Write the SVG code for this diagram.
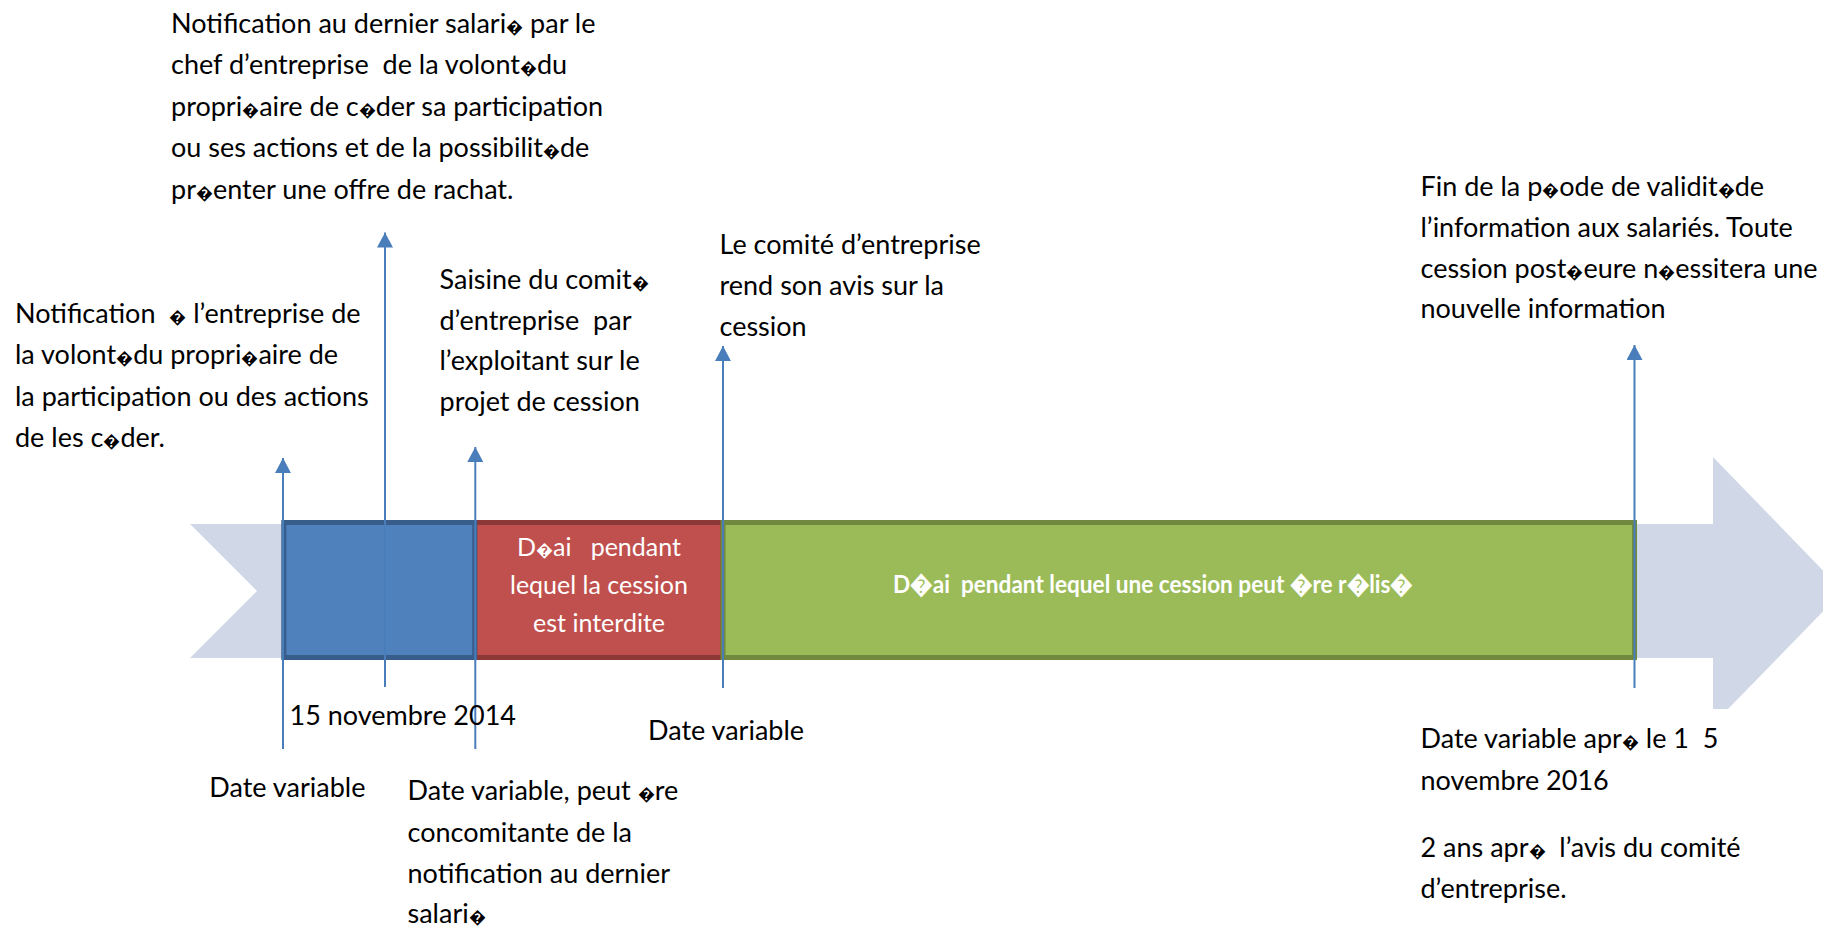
<svg xmlns="http://www.w3.org/2000/svg" width="1823" height="926" viewBox="0 0 1823 926">
<style>
.t{font-family:Lato,"Liberation Sans",sans-serif;font-size:27px;fill:#000;white-space:pre}
.w{font-family:Lato,"Liberation Sans",sans-serif;font-size:25px;fill:#fff;white-space:pre;text-anchor:middle}
.wb{font-family:Lato,"Liberation Sans",sans-serif;font-size:25px;font-weight:bold;fill:#fff;white-space:pre}
.x{font-size:17px}
.c{stroke:#4A7EBB;stroke-width:2;fill:none}
</style>
<defs>
<marker id="ah" viewBox="0 0 15 16" refX="15" refY="8" markerWidth="15" markerHeight="16" markerUnits="userSpaceOnUse" orient="auto"><path d="M0,0 L15,8 L0,16 z" fill="#4A7EBB"/></marker>
</defs>
<g id="band">
<polygon points="190,524 1713,524 1713,457 1843,591 1728,709 1713,709 1713,658 190,658 257,591" fill="#D0D8E8"/>
</g>
<g id="red">
<rect x="474.7" y="522.5" width="248.3" height="135" fill="#C0504D" stroke="#8C3836" stroke-width="5"/>
<text class="w"><tspan x="599" y="556">D<tspan class="x">�</tspan>ai   pendant</tspan><tspan x="599" y="594">lequel la cession</tspan><tspan x="599" y="632">est interdite</tspan></text>
</g>
<g id="blue">
<rect x="283.8" y="522.5" width="190.9" height="135" fill="#4F81BD" stroke="#385D8A" stroke-width="5"/>
</g>
<g id="green">
<rect x="723" y="522.5" width="911.5" height="135" fill="#9BBB59" stroke="#71893F" stroke-width="5"/>
<text class="wb" x="893" y="593" textLength="520" lengthAdjust="spacingAndGlyphs">D�ai  pendant lequel une cession peut �re r�lis�</text>
</g>
<g id="connectors">
<line class="c" x1="283" y1="749" x2="283" y2="458" marker-end="url(#ah)"/>
<line class="c" x1="385" y1="687" x2="385" y2="232.5" marker-end="url(#ah)"/>
<line class="c" x1="475.3" y1="749" x2="475.3" y2="447" marker-end="url(#ah)"/>
<line class="c" x1="723" y1="688" x2="723" y2="346" marker-end="url(#ah)"/>
<line class="c" x1="1634.5" y1="688" x2="1634.5" y2="345" marker-end="url(#ah)"/>
</g>
<g id="n-notif-salarie">
<text class="t"><tspan x="171" y="32.7">Notification au dernier salari<tspan class="x">�</tspan> par le</tspan><tspan x="171" y="74.2">chef d’entreprise  de la volont<tspan class="x">�</tspan>du</tspan><tspan x="171" y="115.7">propri<tspan class="x">�</tspan>aire de c<tspan class="x">�</tspan>der sa participation</tspan><tspan x="171" y="157.2">ou ses actions et de la possibilit<tspan class="x">�</tspan>de</tspan><tspan x="171" y="198.7">pr<tspan class="x">�</tspan>enter une offre de rachat.</tspan></text>
</g>
<g id="n-notif-entreprise">
<text class="t"><tspan x="15" y="323">Notification  <tspan class="x">�</tspan> l’entreprise de</tspan><tspan x="15" y="364">la volont<tspan class="x">�</tspan>du propri<tspan class="x">�</tspan>aire de</tspan><tspan x="15" y="405.5">la participation ou des actions</tspan><tspan x="15" y="446.5">de les c<tspan class="x">�</tspan>der.</tspan></text>
</g>
<g id="n-saisine">
<text class="t"><tspan x="439.5" y="288.5">Saisine du comit<tspan class="x">�</tspan></tspan><tspan x="439.5" y="329.5">d’entreprise  par</tspan><tspan x="439.5" y="370">l’exploitant sur le</tspan><tspan x="439.5" y="411">projet de cession</tspan></text>
</g>
<g id="n-avis">
<text class="t"><tspan x="719.5" y="254">Le comité d’entreprise</tspan><tspan x="719.5" y="295">rend son avis sur la</tspan><tspan x="719.5" y="336">cession</tspan></text>
</g>
<g id="n-fin">
<text class="t"><tspan x="1420.5" y="195.5">Fin de la p<tspan class="x">�</tspan>ode de validit<tspan class="x">�</tspan>de</tspan><tspan x="1420.5" y="236.5">l’information aux salariés. Toute</tspan><tspan x="1420.5" y="277.5">cession post<tspan class="x">�</tspan>eure n<tspan class="x">�</tspan>essitera une</tspan><tspan x="1420.5" y="318">nouvelle information</tspan></text>
</g>
<g id="d-2014">
<text class="t" x="289.5" y="725">15 novembre 2014</text>
</g>
<g id="d-var1">
<text class="t" x="209.3" y="797">Date variable</text>
</g>
<g id="d-var2">
<text class="t"><tspan x="407.5" y="800">Date variable, peut <tspan class="x">�</tspan>re</tspan><tspan x="407.5" y="841.5">concomitante de la</tspan><tspan x="407.5" y="882.5">notification au dernier</tspan><tspan x="407.5" y="923">salari<tspan class="x">�</tspan></tspan></text>
</g>
<g id="d-var3">
<text class="t" x="648" y="740">Date variable</text>
</g>
<g id="d-2016">
<text class="t"><tspan x="1420.5" y="748">Date variable apr<tspan class="x">�</tspan> le 1  5</tspan><tspan x="1420.5" y="789.5">novembre 2016</tspan></text>
<text class="t"><tspan x="1420.5" y="856.5">2 ans apr<tspan class="x">�</tspan>  l’avis du comité</tspan><tspan x="1420.5" y="898">d’entreprise.</tspan></text>
</g>
</svg>
